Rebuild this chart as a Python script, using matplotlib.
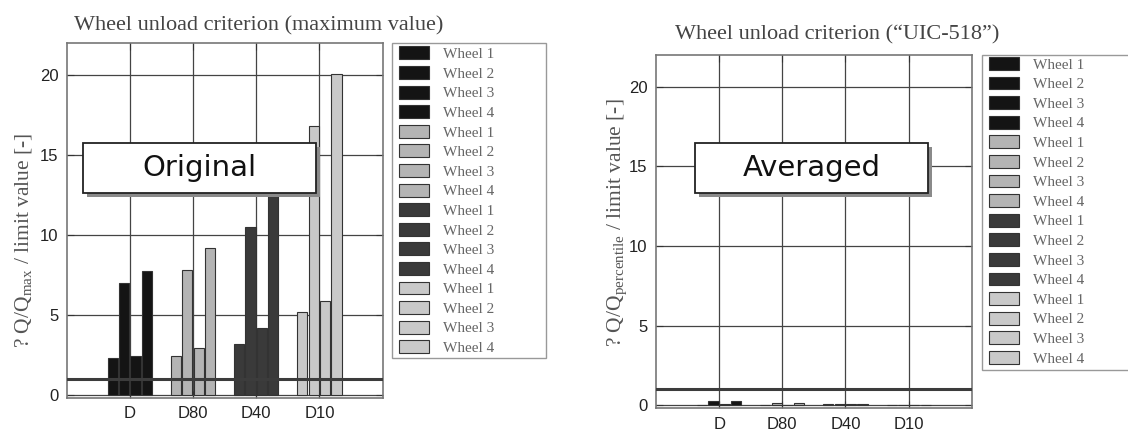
import numpy as np
import matplotlib
matplotlib.use("Agg")
import matplotlib.pyplot as plt
from matplotlib.patches import Rectangle

# categories (test cases) and wheel names
categories = ["D", "D80", "D40", "D10"]
wheels = ["Wheel 1", "Wheel 2", "Wheel 3", "Wheel 4"]

# left panel: maximum value criterion, one row per category, one value per wheel
max_values = [
    [2.3, 7.0, 2.45, 7.75],
    [2.45, 7.8, 2.9, 9.2],
    [3.2, 10.5, 4.2, 14.0],
    [5.2, 16.85, 5.9, 20.05],
]
# right panel: "UIC-518" averaged criterion
avg_values = [
    [0.03, 0.25, 0.05, 0.25],
    [0.02, 0.12, 0.03, 0.12],
    [0.04, 0.05, 0.04, 0.04],
    [0.02, 0.03, 0.02, 0.03],
]
limit_value = 1.0

group_colors = ["#141414", "#b4b4b4", "#3a3a3a", "#c9c9c9"]
offsets = [-0.27, -0.09, 0.09, 0.27]
bar_w = 0.16

W, H = 1128.0, 430.0
fig = plt.figure(figsize=(11.28, 4.3), dpi=100)
ax1 = fig.add_axes([0.0591, 0.0744, 0.2801, 0.8249])
ax2 = fig.add_axes([0.5816, 0.0505, 0.2799, 0.8216])

serif = ["Liberation Serif", "DejaVu Serif"]
sans = ["Liberation Sans", "DejaVu Sans"]


def draw(ax, values, title, title_x, title_pad, ylabel, ylab_xy, leg_xy, leg_box):
    x = np.arange(1, len(categories) + 1)
    handles = []
    for g, cat in enumerate(categories):
        for w, wh in enumerate(wheels):
            h = ax.bar(x[g] + offsets[w], values[g][w], width=bar_w,
                       color=group_colors[g], edgecolor="#333333",
                       linewidth=0.8, label=wh, zorder=3)
            handles.append(h)
    ax.axhline(limit_value, color="#3c3c3c", lw=2.2, zorder=4)
    ax.set_xlim(0, 5)
    ax.set_ylim(-0.2, 22)
    ax.set_xticks(x)
    ax.set_xticklabels(categories, fontfamily=sans, fontsize=12, color="#222222")
    ax.set_yticks([0, 5, 10, 15, 20])
    ax.set_yticklabels(["0", "5", "10", "15", "20"], fontfamily=sans,
                       fontsize=12, color="#222222")
    ax.tick_params(direction="in", right=True, top=True, length=5,
                   color="#333333", pad=6)
    ax.grid(True, color="#444444", lw=0.9, zorder=0)
    for s in ax.spines.values():
        s.set_color("#777777")
        s.set_linewidth(1.2)
    ax.set_title(title, fontfamily=serif, fontsize=16, color="#444444",
                 x=title_x, pad=title_pad)
    ax.set_ylabel(ylabel, fontfamily=serif, fontsize=15.5, color="#555555")
    ax.yaxis.set_label_coords(*ylab_xy)
    # legend frame drawn separately (wider than the entries)
    x0, x1, y0, y1 = leg_box
    fig.patches.append(Rectangle((x0 / W, 1 - y1 / H), (x1 - x0) / W, (y1 - y0) / H,
                                 transform=fig.transFigure, facecolor="white",
                                 edgecolor="#999999", lw=1.0, zorder=1))
    fig.legend(handles=handles, labels=wheels * 4, loc="upper left",
               bbox_to_anchor=(leg_xy[0] / W, 1 - leg_xy[1] / H), ncol=1,
               prop={"family": serif, "size": 11}, labelcolor="#666666",
               frameon=False, handlelength=1.96, handleheight=0.92,
               labelspacing=0.32, borderpad=0, handletextpad=0.9,
               borderaxespad=0)


draw(ax1, max_values, "Wheel unload criterion (maximum value)", 0.609, 9,
     r"? Q/Q$_{\mathregular{max}}$ / limit value [-]", (-0.100, 0.443),
     (399.3, 46.5), (392.0, 545.7, 43.3, 358.0))
draw(ax2, avg_values, "Wheel unload criterion (\u201cUIC-518\u201d)", 0.573, 11,
     r"? Q/Q$_{\mathregular{percentile}}$ / limit value [-]", (-0.082, 0.524),
     (989.3, 57.0), (981.7, 1135.0, 55.0, 370.0))

# overlay boxes with shadow


def label_box(x0, x1, y0, y1, text):
    fig.patches.append(Rectangle(((x0 + 4) / W, 1 - (y1 + 4) / H), (x1 - x0) / W,
                                 (y1 - y0) / H, transform=fig.transFigure,
                                 facecolor="#8a8a8a", edgecolor="none", zorder=10))
    fig.patches.append(Rectangle((x0 / W, 1 - y1 / H), (x1 - x0) / W, (y1 - y0) / H,
                                 transform=fig.transFigure, facecolor="white",
                                 edgecolor="#222222", lw=1.3, zorder=11))
    fig.text((x0 + x1) / 2 / W, 1 - (y0 + y1) / 2 / H, text, ha="center", va="center",
             fontfamily="DejaVu Sans", fontsize=21, color="#111111", zorder=12)


label_box(83.3, 316.0, 142.7, 193.3, "Original")
label_box(695.0, 928.3, 142.7, 193.3, "Averaged")

fig.savefig("out.png", dpi=100)
